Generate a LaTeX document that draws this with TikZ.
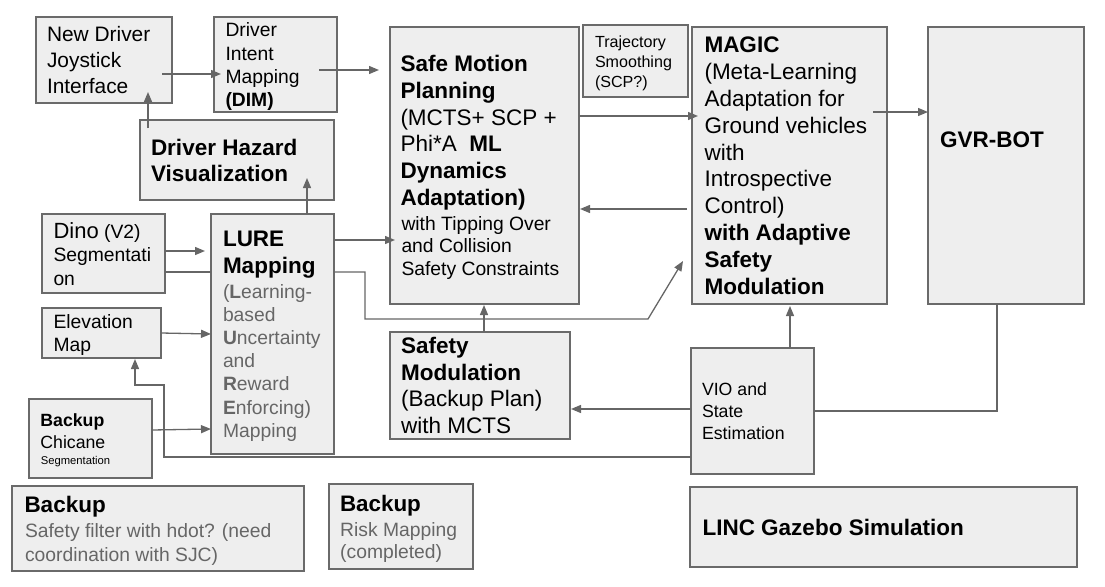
\documentclass[tikz,border=0pt]{standalone}
\usepackage{fontspec}
\setmainfont{Liberation Sans}
\usetikzlibrary{arrows.meta,calc}
\definecolor{boxfill}{HTML}{EEEEEE}
\definecolor{boxline}{HTML}{6A6A6A}
\definecolor{lineclr}{HTML}{666666}
\definecolor{greytxt}{HTML}{666666}
\newcommand\fsz[2]{\fontsize{#1}{#2}\selectfont}
\begin{document}
\begin{tikzpicture}[x=1pt,y=-1pt,
  box/.style={draw=boxline, fill=boxfill, line width=1.4pt, inner sep=0pt, outer sep=0pt, anchor=north west},
  lbl/.style={anchor=north west, inner sep=0pt, outer sep=0pt, align=left, text=black},
  lblb/.style={anchor=base west, inner sep=0pt, outer sep=0pt, text=black},
  conn/.style={draw=lineclr, line width=1.3pt},
  arr/.style={conn, -{Triangle[length=10pt,width=8pt]}},
]
\useasboundingbox (0,0) rectangle (1105,586);

% boxes
\node[box, minimum width=136pt, minimum height=86pt]  (joy)   at (36,17)  {};
\node[box, minimum width=123pt, minimum height=95pt]  (dim)   at (214,17) {};
\node[box, minimum width=194pt, minimum height=80pt]  (haz)   at (140,120) {};
\node[box, minimum width=189pt, minimum height=277pt] (smp)   at (390,27) {};
\node[box, minimum width=105pt, minimum height=72pt]  (traj)  at (583,25) {};
\node[box, minimum width=195pt, minimum height=277pt] (magic) at (692,27) {};
\node[box, minimum width=156pt, minimum height=277pt] (gvr)   at (928,27) {};
\node[box, minimum width=123pt, minimum height=79pt]  (dino)  at (42,214) {};
\node[box, minimum width=123pt, minimum height=240pt] (lure)  at (211,214) {};
\node[box, minimum width=119pt, minimum height=50pt]  (elev)  at (42,308) {};
\node[box, minimum width=123pt, minimum height=79pt]  (chic)  at (29,399) {};
\node[box, minimum width=180pt, minimum height=107pt] (smod)  at (390,332) {};
\node[box, minimum width=123pt, minimum height=126pt] (vio)   at (691,348) {};
\node[box, minimum width=292pt, minimum height=85pt]  (bsf)   at (12,486) {};
\node[box, minimum width=144pt, minimum height=85pt]  (brm)   at (329,484) {};
\node[box, minimum width=387pt, minimum height=80pt]  (linc)  at (690,487) {};

% texts
\node[lbl, font=\fsz{20.9}{26}] (joy-t) at (47,26.7) {New Driver\\Joystick\\Interface};
\node[lbl, font=\fsz{19.3}{23.3}] (dim-t) at (225.5,22.8) {Driver\\Intent\\Mapping\\\textbf{(DIM)}};
\node[lbl, font=\fsz{22.5}{26.7}\bfseries] (haz-t) at (151,138.8) {Driver Hazard\\Visualization};
\node[lbl, font=\fsz{22.5}{26.7}] (smp-a) at (400.5,55.5) {\textbf{Safe Motion}\\\textbf{Planning}\\(MCTS+ SCP +\\Phi*A\ \ \textbf{ML}\\\textbf{Dynamics}\\\textbf{Adaptation)}};
\node[lbl, font=\fsz{19.3}{22.7}] (smp-b) at (401.5,216.1) {with Tipping Over\\and Collision\\Safety Constraints};
\node[lbl, font=\fsz{16.1}{20}] (traj-t) at (595,36.1) {Trajectory\\Smoothing\\(SCP?)};
\node[lbl, font=\fsz{22.5}{26.8}] (magic-t) at (704.5,37.1) {\textbf{MAGIC}\\(Meta-Learning\\Adaptation for\\Ground vehicles\\with\\Introspective\\Control)\\\textbf{with Adaptive}\\\textbf{Safety}\\\textbf{Modulation}};
\node[lblb, font=\fsz{22.5}{26.8}\bfseries] (gvr-t) at (940,147) {GVR-BOT};
\node[lbl, font=\fsz{19.3}{23.3}] (dino-t) at (53.5,222.5) {{\fsz{22}{26}Dino} (V2)\\Segmentati\\on};
\node[lbl, font=\fsz{19.3}{23.3}] (elev-t) at (53.5,314.4) {Elevation\\Map};
\node[lbl, font=\fsz{22.5}{26.3}\bfseries] (lure-a) at (223,231.5) {LURE\\Mapping};
\node[lbl, font=\fsz{19.3}{23.2}, text=greytxt] (lure-b) at (223,284.2) {(\textbf{L}earning-\\based\\\textbf{U}ncertainty\\and\\\textbf{R}eward\\\textbf{E}nforcing)\\Mapping};
\node[lbl, font=\fsz{17.7}{21.6}] (chic-a) at (40.4,414) {\textbf{Backup}\\Chicane};
\node[lblb, font=\fsz{11.25}{14}] (chic-b) at (40.8,464.3) {Segmentation};
\node[lbl, font=\fsz{22.5}{26.7}] (smod-t) at (401.2,337.1) {\textbf{Safety}\\\textbf{Modulation}\\(Backup Plan)\\with MCTS};
\node[lbl, font=\fsz{17.7}{21.8}] (vio-t) at (702,383) {VIO and\\State\\Estimation};
\node[lblb, font=\fsz{22.5}{26}\bfseries] (bsf-a) at (24.5,512.7) {Backup};
\node[lbl, font=\fsz{19.3}{23.3}, text=greytxt] (bsf-b) at (25,523.8) {Safety filter with hdot? (need\\coordination with SJC)};
\node[lblb, font=\fsz{22.4}{26}\bfseries] (brm-a) at (340,511) {Backup};
\node[lbl, font=\fsz{19.3}{22.7}, text=greytxt] (brm-b) at (340.2,522.1) {Risk Mapping\\(completed)};
\node[lblb, font=\fsz{22.5}{26}\bfseries] (linc-t) at (702.5,535.3) {LINC Gazebo Simulation};

% connectors
\draw[arr] ([shift={(8,8)}]haz.north west) -- ([shift={(112,-11)}]joy.south west);
\draw[arr] ([shift={(-10,57)}]joy.north east) -- ([shift={(7,57)}]dim.north west);
\draw[arr] ([shift={(-18,53)}]dim.north east) -- ([shift={(-11,43)}]smp.north west);
\draw[arr] ([shift={(96,0)}]lure.north west) -- ([shift={(167,-22)}]haz.south west);
\draw[arr] ([shift={(0,37)}]dino.north east) -- ([shift={(-6,37)}]lure.north west);
\draw[conn] ([shift={(0,58)}]dino.north east) -- ([shift={(0,58)}]lure.north west);
\draw[arr] ([shift={(0,25)}]elev.north east) -- ([shift={(0,120)}]lure.north west);
\draw[arr] ([shift={(0,31)}]chic.north east) -- ([shift={(0,215)}]lure.north west);
\draw[arr] ([shift={(0,109)}]vio.north west) -| ([shift={(122,27)}]elev.south west) -| ([shift={(93,1)}]elev.south west);
\draw[arr] ([shift={(0,26)}]lure.north east) -- ([shift={(5,213)}]smp.north west);
\draw[arr] ([shift={(0,58)}]lure.north east) -| ([shift={(31,105)}]lure.north east) -- ([shift={(-44,15)}]magic.south west) -- ([shift={(-9,-43)}]magic.south west);
\draw[arr] ([shift={(0,89)}]smp.north east) -- ([shift={(6,89)}]magic.north west);
\draw[arr] ([shift={(-5,182)}]magic.north west) -- ([shift={(1,182)}]smp.north east);
\draw[arr] ([shift={(-14,85)}]magic.north east) -- ([shift={(0,85)}]gvr.north west);
\draw[arr] ([shift={(94,0)}]smod.north west) -- ([shift={(94,1)}]smp.south west);
\draw[arr] ([shift={(0,61)}]vio.north west) -- ([shift={(1,77)}]smod.north east);
\draw[arr] ([shift={(99,0)}]vio.north west) -- ([shift={(98,2)}]magic.south west);
\draw[conn] ([shift={(69,0)}]gvr.south west) |- ([shift={(0,63)}]vio.north east);
\end{tikzpicture}
\end{document}
